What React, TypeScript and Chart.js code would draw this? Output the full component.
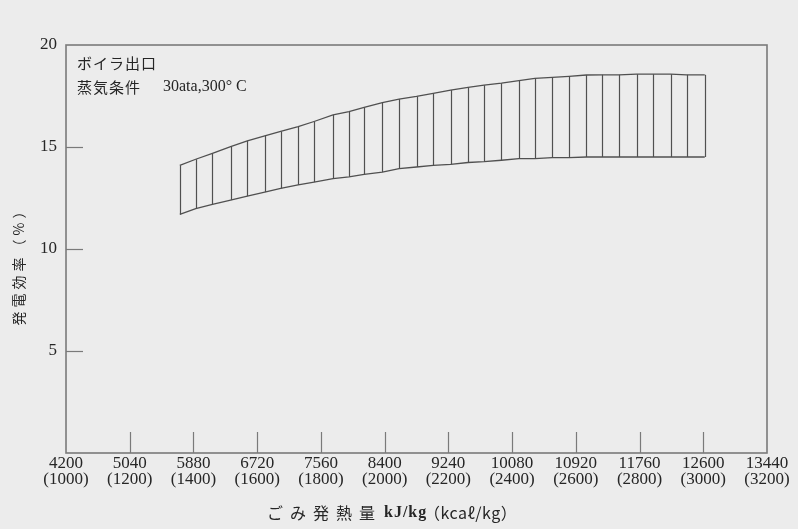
import React, { useEffect, useRef } from "react";
import { Chart, registerables } from "chart.js";

Chart.register(...registerables);

// Hatch positions along the band (kJ/kg) and upper / lower efficiency (%)
const hatchX = [
  5700, 5910, 6130, 6370, 6590, 6820, 7030, 7260, 7470, 7720, 7930, 8130,
  8370, 8590, 8820, 9040, 9270, 9500, 9710, 9940, 10170, 10380, 10610, 10830,
  11060, 11270, 11490, 11720, 11940, 12170, 12380, 12620,
];
const upperEff = [
  14.1, 14.4, 14.69, 15.02, 15.3, 15.54, 15.76, 16.0, 16.25, 16.57, 16.73, 16.94,
  17.18, 17.35, 17.48, 17.63, 17.79, 17.92, 18.03, 18.13, 18.25, 18.36, 18.41, 18.46,
  18.53, 18.54, 18.54, 18.57, 18.57, 18.57, 18.54, 18.54,
];
const lowerEff = [
  11.7, 11.98, 12.19, 12.4, 12.59, 12.79, 12.97, 13.14, 13.28, 13.45, 13.54, 13.66,
  13.77, 13.94, 14.02, 14.1, 14.15, 14.24, 14.28, 14.35, 14.43, 14.43, 14.48, 14.48,
  14.51, 14.51, 14.51, 14.51, 14.51, 14.51, 14.51, 14.51,
];

const xTickKJ = [4200, 5040, 5880, 6720, 7560, 8400, 9240, 10080, 10920, 11760, 12600, 13440];
const xTickKcal = ["(1000)", "(1200)", "(1400)", "(1600)", "(1800)", "(2000)", "(2200)", "(2400)", "(2600)", "(2800)", "(3000)", "(3200)"];
const yTickValues = [0, 5, 10, 15, 20];

const noteLine1 = "ボイラ出口";
const noteLine2a = "蒸気条件";
const noteLine2b = "30ata,300° C";
const xTitleJa = "ごみ発熱量";
const xTitleUnit = "kJ/kg";
const xTitleUnit2 = "（kcaℓ/kg）";
const yTitle = "発電効率（%）";

const BG = "#ececec";
const LINE = "#505050";
const FRAME = "#7a7a7a";
const TEXT = "#262626";
const SERIF = "'Liberation Serif', 'DejaVu Serif', serif";
const JP = "'Noto Sans CJK JP', sans-serif";

const decorPlugin = {
  id: "decor",
  beforeDraw(chart: any) {
    const ctx = chart.ctx;
    ctx.save();
    ctx.fillStyle = BG;
    ctx.fillRect(0, 0, chart.width, chart.height);
    ctx.restore();
  },
  afterDatasetsDraw(chart: any) {
    const ctx = chart.ctx;
    const xs = chart.scales.x;
    const ys = chart.scales.y;
    ctx.save();
    ctx.strokeStyle = LINE;
    ctx.lineWidth = 1.2;
    hatchX.forEach((v, i) => {
      const px = Math.round(xs.getPixelForValue(v)) + 0.5;
      ctx.beginPath();
      ctx.moveTo(px, ys.getPixelForValue(upperEff[i]));
      ctx.lineTo(px, ys.getPixelForValue(lowerEff[i]));
      ctx.stroke();
    });
    ctx.restore();
  },
  afterDraw(chart: any) {
    const ctx = chart.ctx;
    const { left, right, top, bottom } = chart.chartArea;
    const xs = chart.scales.x;
    const ys = chart.scales.y;
    ctx.save();
    // frame
    ctx.strokeStyle = FRAME;
    ctx.lineWidth = 1.6;
    ctx.strokeRect(left, top, right - left, bottom - top);
    // inward ticks
    ctx.lineWidth = 1.2;
    xTickKJ.slice(1, -1).forEach((v) => {
      const px = Math.round(xs.getPixelForValue(v)) + 0.5;
      ctx.beginPath();
      ctx.moveTo(px, bottom);
      ctx.lineTo(px, bottom - 21);
      ctx.stroke();
    });
    yTickValues.slice(1, -1).forEach((v) => {
      const py = Math.round(ys.getPixelForValue(v)) + 0.5;
      ctx.beginPath();
      ctx.moveTo(left, py);
      ctx.lineTo(left + 17, py);
      ctx.stroke();
    });

    // annotation text
    ctx.fillStyle = TEXT;
    ctx.textBaseline = "middle";
    ctx.textAlign = "left";
    ctx.font = `15px ${JP}`;
    (ctx as any).letterSpacing = "1px";
    ctx.fillText(noteLine1, left + 11, top + 18);
    ctx.fillText(noteLine2a, left + 11, top + 42);
    (ctx as any).letterSpacing = "0px";
    ctx.font = `16px ${SERIF}`;
    ctx.fillText(noteLine2b, left + 97, top + 42);

    // x title
    const ty = 513;
    ctx.font = `16px ${JP}`;
    (ctx as any).letterSpacing = "7px";
    ctx.fillText(xTitleJa, 267, ty);
    (ctx as any).letterSpacing = "1px";
    ctx.font = `bold 16px ${SERIF}`;
    ctx.fillText(xTitleUnit, 384, ty);
    ctx.font = `16px ${JP}`;
    (ctx as any).letterSpacing = "0.5px";
    ctx.fillText(xTitleUnit2, 424, ty);

    // y title
    ctx.translate(19, 263);
    ctx.rotate(-Math.PI / 2);
    ctx.textAlign = "center";
    ctx.font = `14px ${JP}`;
    (ctx as any).letterSpacing = "4px";
    ctx.fillText(yTitle, 0, 0);
    ctx.restore();
  },
};

export default function App() {
  const ref = useRef<HTMLCanvasElement | null>(null);

  useEffect(() => {
    if (!ref.current) return;
    const chart = new Chart(ref.current, {
      type: "line",
      data: {
        datasets: [
          {
            label: "upper",
            data: hatchX.map((x, i) => ({ x, y: upperEff[i] })),
            borderColor: LINE,
            borderWidth: 1.3,
            pointRadius: 0,
            tension: 0,
            fill: false,
          },
          {
            label: "lower",
            data: hatchX.map((x, i) => ({ x, y: lowerEff[i] })),
            borderColor: LINE,
            borderWidth: 1.3,
            pointRadius: 0,
            tension: 0,
            fill: false,
          },
        ],
      },
      options: {
        animation: false,
        responsive: false,
        layout: { padding: { left: 0, top: 45, right: 31, bottom: 0 } },
        plugins: {
          legend: { display: false },
          tooltip: { enabled: false },
          title: { display: false },
        },
        scales: {
          x: {
            type: "linear",
            min: 4200,
            max: 13440,
            grid: { display: false, drawTicks: false },
            border: { display: false },
            afterBuildTicks: (scale: any) => {
              scale.ticks = xTickKJ.map((v) => ({ value: v }));
            },
            afterFit: (scale: any) => {
              scale.height = 76;
            },
            ticks: {
              autoSkip: false,
              maxRotation: 0,
              minRotation: 0,
              padding: 3,
              color: TEXT,
              font: { family: SERIF, size: 17, lineHeight: 0.94 },
              callback: (value: any) => {
                const i = xTickKJ.indexOf(Number(value));
                return i >= 0 ? [String(xTickKJ[i]), xTickKcal[i]] : "";
              },
            },
          },
          y: {
            type: "linear",
            min: 0,
            max: 20,
            grid: { display: false, drawTicks: false },
            border: { display: false },
            afterBuildTicks: (scale: any) => {
              scale.ticks = yTickValues.map((v) => ({ value: v }));
            },
            afterFit: (scale: any) => {
              scale.width = 66;
            },
            ticks: {
              padding: 9,
              color: TEXT,
              font: { family: SERIF, size: 17 },
              callback: (value: any) => (Number(value) === 0 ? "" : String(value)),
            },
          },
        },
      },
      plugins: [decorPlugin],
    });
    return () => chart.destroy();
  }, []);

  return (
    <div style={{ position: "fixed", left: 0, top: 0, width: 798, height: 529, background: BG }}>
      <canvas ref={ref} width={798} height={529} style={{ width: 798, height: 529, display: "block" }} />
    </div>
  );
}
